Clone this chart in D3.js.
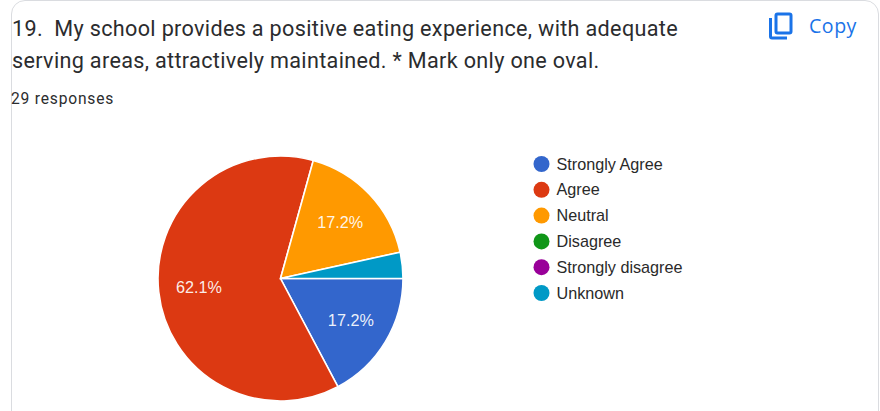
<!DOCTYPE html>
<html><head><meta charset="utf-8">
<script src="https://cdn.jsdelivr.net/npm/d3@7"></script>
<style>html,body{margin:0;padding:0;background:#fff;overflow:hidden}svg{display:block}</style>
</head><body><div id="c"></div>
<script>
const categories=["Strongly Agree","Agree","Neutral","Disagree","Strongly disagree","Unknown"];
const counts=[5,18,5,0,0,1];
const colors=["#3366cc","#dc3912","#ff9900","#109618","#990099","#0099c6"];
const titleLines=["19.  My school provides a positive eating experience, with adequate","serving areas, attractively maintained. * Mark only one oval."];
const responses="29 responses";
const W=880,H=411,cx=280.5,cy=278.5,R=122.5;
const svg=d3.select("#c").append("svg").attr("width",W).attr("height",H);
const F="Roboto, sans-serif";
svg.append("path").attr("d",`M11.5,${H+5}V14A13.5,13.5 0 0 1 25,0.5H865A13.5,13.5 0 0 1 878.5,14V${H+5}`).attr("fill","#fff").attr("stroke","#dadce0");
svg.selectAll(".t").data(titleLines).join("text").attr("x",12).attr("y",(d,i)=>[36,68][i]).text(d=>d)
 .attr("font-family",F).attr("font-size",21.6).attr("letter-spacing",0.33).attr("fill","#2b2c2e").style("white-space","pre");
svg.append("text").attr("x",11).attr("y",104).text(responses).attr("font-family",F).attr("font-size",15.6).attr("letter-spacing",0.8).attr("fill","#2b2c2e");
const ic=svg.append("g").attr("fill","none").attr("stroke","#1a73e8").attr("stroke-width",3);
ic.append("rect").attr("x",776).attr("y",14).attr("width",15).attr("height",19).attr("rx",1.5);
ic.append("path").attr("d","M770.5,18V36.5A1.5,1.5 0 0 0 772,38H787");
svg.append("text").attr("x",809).attr("y",33).text("Copy").attr("font-family","'Open Sans',Roboto,sans-serif").attr("font-size",19.6).attr("letter-spacing",0.5).attr("fill","#1a73e8");
const total=d3.sum(counts);
const pie=d3.pie().sort(null).startAngle(Math.PI/2).endAngle(Math.PI/2+2*Math.PI)(counts);
const arc=d3.arc().innerRadius(0).outerRadius(R);
const g=svg.append("g").attr("transform",`translate(${cx},${cy})`);
g.selectAll("path").data(pie.filter(d=>d.value>0)).join("path").attr("d",arc).attr("fill",d=>colors[d.index]).attr("stroke","#fff").attr("stroke-width",1.6);
const lab=d3.arc().innerRadius(R*0.67).outerRadius(R*0.67);
const fmt=d3.format(".1f");
g.selectAll("text").data(pie.filter(d=>d.value/total>0.05)).join("text")
 .attr("transform",d=>{const c=lab.centroid(d);return `translate(${c[0]},${c[1]})`;})
 .attr("text-anchor","middle").attr("dy","0.35em").text(d=>fmt(d.value/total*100)+"%")
 .attr("font-family","Arial, 'Liberation Sans', sans-serif").attr("font-size",16.2).attr("fill","#fff").attr("fill-opacity",0.92);
const y=d3.scalePoint().domain(categories).range([164,293]);
const lg=svg.append("g").selectAll("g").data(categories).join("g").attr("transform",d=>`translate(0,${y(d)})`);
lg.append("circle").attr("cx",541.5).attr("r",8).attr("fill",(d,i)=>colors[i]);
lg.append("text").attr("x",556.5).attr("dy","0.35em").text(d=>d).attr("font-family","Arial, 'Liberation Sans', sans-serif").attr("font-size",16.2).attr("fill","#2a2a2a");
</script></body></html>
